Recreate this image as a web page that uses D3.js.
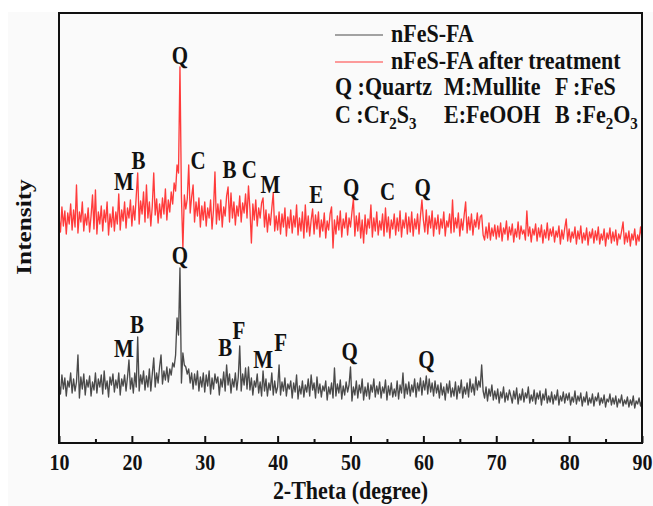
<!DOCTYPE html>
<html>
<head>
<meta charset="utf-8">
<script src="https://cdn.jsdelivr.net/npm/d3@7/dist/d3.min.js"></script>
<style>
  html, body { margin: 0; padding: 0; background: #fff; }
  svg { display: block; font-family: "Liberation Serif", "Times New Roman", serif; font-weight: bold; }
</style>
</head>
<body>
<svg id="chart" width="653" height="506"></svg>
<script>
// XRD patterns, 2θ from 10° to 90° in 0.2° steps (intensity in a.u.)
const thetaStart = 10;
const thetaStep = 0.2;

const nFeSFA = [
  600,490,680,540,650,470,620,560,700,500,
  640,520,610,880,450,660,540,690,480,630,
  560,670,470,610,530,700,500,640,560,680,
  490,720,540,620,460,660,580,690,510,630,
  550,700,480,640,570,680,520,660,830,540,
  650,500,700,560,1060,520,680,590,720,530,
  670,560,740,520,690,850,560,700,600,760,
  880,590,720,630,760,610,740,680,800,760,
  880,1250,1080,1750,600,900,780,760,690,740,
  600,700,540,690,580,720,520,660,560,700,
  510,680,570,720,490,650,540,690,600,660,
  480,640,560,710,520,780,580,690,500,640,
  560,700,530,660,970,520,690,580,750,540,
  760,530,650,480,620,560,690,500,610,470,
  720,520,640,470,600,530,700,480,620,500,
  560,780,480,610,520,650,470,590,540,620,
  450,600,510,680,440,570,490,620,460,580,
  510,640,470,680,530,600,450,660,500,590,
  460,570,520,620,430,560,490,600,450,750,
  470,590,500,630,440,570,480,610,510,580,
  760,420,560,480,620,450,580,500,640,430,
  560,470,600,440,580,510,640,460,570,490,
  610,450,560,500,630,430,570,480,600,460,
  540,470,620,440,580,500,700,450,590,490,
  610,470,580,510,640,460,600,520,650,480,
  620,530,670,490,640,510,600,470,620,500,
  580,450,600,480,560,430,590,500,620,460,
  550,470,610,440,570,500,630,450,560,490,
  600,460,640,510,590,480,660,530,620,560,
  780,520,450,560,420,540,470,580,430,520,
  440,540,400,510,450,560,410,500,430,530,
  470,400,520,440,550,390,490,430,540,410,
  500,450,560,400,480,420,530,390,500,440,
  520,380,490,430,540,400,470,410,510,390,
  480,430,530,380,470,420,510,400,490,430,
  500,380,460,410,520,390,470,420,500,370,
  460,410,510,380,450,400,490,370,460,420,
  500,380,450,400,480,360,440,410,490,380,
  450,390,470,360,440,400,480,370,430,390,
  460,360,430,380,470,350,420,390,450,370,
  430
];

const nFeSFATreated = [
  560,410,660,470,620,390,600,490,690,430,
  630,460,880,400,610,510,710,420,590,480,
  650,410,570,780,440,830,390,610,490,670,
  420,630,510,710,380,590,460,660,420,610,
  490,790,430,630,520,710,450,650,550,730,
  470,670,530,770,1000,490,720,590,810,510,
  880,550,710,470,670,1000,580,740,500,690,
  550,750,590,840,530,730,610,810,690,900,
  820,1080,1000,2060,760,250,780,640,740,1080,
  600,760,880,510,710,570,750,460,670,530,
  710,470,650,550,730,440,630,1010,490,690,
  530,730,460,660,570,770,860,510,800,550,
  710,480,670,570,770,510,700,600,790,550,
  870,640,300,690,530,730,470,650,550,700,
  750,460,630,410,590,480,650,800,420,570,
  430,610,390,590,460,650,370,560,450,630,
  400,570,460,680,380,550,420,610,350,680,
  410,570,370,530,640,390,580,440,610,360,
  530,420,600,350,520,430,590,660,250,530,
  390,570,430,620,360,540,450,600,380,550,
  460,610,740,370,570,420,600,350,530,300,
  580,390,540,450,680,360,550,420,610,380,
  520,430,590,370,650,410,560,350,530,440,
  590,380,550,420,620,360,530,450,600,390,
  560,410,610,370,540,440,590,390,570,730,
  530,410,630,390,570,450,620,370,550,440,
  580,390,540,450,610,370,520,460,590,400,
  730,410,550,450,600,370,540,430,580,710,
  400,560,430,590,380,530,460,600,440,560,
  580,380,330,460,350,500,330,450,370,480,
  340,470,360,500,320,450,390,520,330,460,
  380,490,310,440,360,510,340,470,390,430,
  330,620,370,460,310,440,380,490,320,450,
  360,480,300,430,350,500,330,440,370,460,
  310,420,360,470,290,430,340,450,540,320,
  440,310,410,350,460,290,420,340,470,300,
  400,330,450,280,410,350,440,300,420,330,
  460,290,390,330,440,270,400,340,450,300,
  410,320,430,280,390,340,420,510,290,400,
  310,420,270,390,330,440,280,380,320,460,
  350
];

// vertical shift used to stack the treated pattern above the untreated one
const treatedOffset = 1700;

const seriesNames = ["nFeS-FA", "nFeS-FA after treatment"];
const seriesColors = ["#4a4a4a", "#ff3b3b"];

const xMajorTicks = [10, 20, 30, 40, 50, 60, 70, 80, 90];
const xMinorTicks = [15, 25, 35, 45, 55, 65, 75, 85];

// phase markers (letter, 2θ, label level in the series' own units)
const rawPeakLetters = ["M", "B", "Q", "B", "F", "M", "F", "Q", "Q"];
const rawPeakTheta   = [18.9, 20.7, 26.6, 32.8, 34.7, 38.0, 40.4, 49.9, 60.4];
const rawPeakLevel   = [860, 1100, 1790, 870, 1040, 750, 920, 830, 750];

const treatedPeakLetters = ["M", "B", "Q", "C", "B", "C", "M", "E", "Q", "C", "Q"];
const treatedPeakTheta   = [18.9, 20.9, 26.6, 29.1, 33.4, 36.1, 39.0, 45.3, 50.1, 55.1, 59.9];
const treatedPeakLevel   = [830, 1040, 2090, 1040, 950, 950, 800, 700, 770, 730, 770];

// phase key: each entry is a list of [text, isSubscript] parts
const phaseKeyRows = [
  [ [["Q :Quartz", false]], [["M:Mullite", false]], [["F :FeS", false]] ],
  [ [["C :Cr", false], ["2", true], ["S", false], ["3", true]],
    [["E:FeOOH", false]],
    [["B :Fe", false], ["2", true], ["O", false], ["3", true]] ]
];

const svg = d3.select("#chart");
const W = 653, H = 506;
const plot = { left: 59, right: 642, top: 13, bottom: 443 };
const stretch = "scale(1,1.15)";   // tall, narrow serif lettering

// page backdrop
svg.append("rect").attr("width", W).attr("height", H).attr("fill", "#ffffff");
svg.append("rect").attr("x", 8).attr("y", 12).attr("width", W - 8).attr("height", H - 12).attr("fill", "#fafafa");

const x = d3.scaleLinear().domain([10, 90]).range([plot.left, plot.right]);
const y = d3.scaleLinear().domain([0, 4300]).range([plot.bottom, plot.top]);

svg.append("clipPath").attr("id", "plotClip")
  .append("rect")
  .attr("x", plot.left).attr("y", plot.top)
  .attr("width", plot.right - plot.left).attr("height", plot.bottom - plot.top);

const lineRaw = d3.line()
  .x((d, i) => x(thetaStart + i * thetaStep))
  .y(d => y(d));
const lineTreated = d3.line()
  .x((d, i) => x(thetaStart + i * thetaStep))
  .y(d => y(d + treatedOffset));

const traces = svg.append("g").attr("clip-path", "url(#plotClip)");
traces.append("path").datum(nFeSFATreated)
  .attr("d", lineTreated)
  .attr("fill", "none").attr("stroke", seriesColors[1])
  .attr("stroke-width", 1.35).attr("stroke-linejoin", "round");
traces.append("path").datum(nFeSFA)
  .attr("d", lineRaw)
  .attr("fill", "none").attr("stroke", seriesColors[0])
  .attr("stroke-width", 1.35).attr("stroke-linejoin", "round");

// peak letters
const peakG = svg.append("g").attr("font-size", 21).attr("text-anchor", "middle").attr("fill", "#111");
peakG.selectAll("text.raw").data(rawPeakLetters).join("text")
  .attr("class", "raw")
  .attr("transform", (d, i) => `translate(${x(rawPeakTheta[i])},${y(rawPeakLevel[i])}) ${stretch}`)
  .text(d => d);
peakG.selectAll("text.treated").data(treatedPeakLetters).join("text")
  .attr("class", "treated")
  .attr("transform", (d, i) => `translate(${x(treatedPeakTheta[i])},${y(treatedPeakLevel[i] + treatedOffset)}) ${stretch}`)
  .text(d => d);

// x axis: major ticks with labels, minor ticks without
const axisMajor = d3.axisBottom(x).tickValues(xMajorTicks).tickSize(-7).tickFormat(d3.format("d"));
const axisMinor = d3.axisBottom(x).tickValues(xMinorTicks).tickSize(-4).tickFormat("");
const gMaj = svg.append("g").attr("transform", `translate(0,${plot.bottom})`).call(axisMajor);
const gMin = svg.append("g").attr("transform", `translate(0,${plot.bottom})`).call(axisMinor);
[gMaj, gMin].forEach(g => {
  g.select(".domain").remove();
  g.selectAll(".tick line").attr("stroke", "#111").attr("stroke-width", 2);
});
gMaj.selectAll(".tick text")
  .attr("y", null).attr("dy", null)
  .attr("transform", `translate(0,27) ${stretch}`)
  .attr("font-family", "'Liberation Serif','Times New Roman',serif")
  .attr("font-weight", "bold").attr("font-size", 20).attr("fill", "#111");

// frame
svg.append("rect")
  .attr("x", plot.left).attr("y", plot.top)
  .attr("width", plot.right - plot.left).attr("height", plot.bottom - plot.top)
  .attr("fill", "none").attr("stroke", "#111").attr("stroke-width", 2);

// axis titles
svg.append("text")
  .attr("transform", `translate(${(plot.left + plot.right) / 2},499) ${stretch}`)
  .attr("text-anchor", "middle").attr("font-size", 22).attr("fill", "#111")
  .text("2-Theta (degree)");
svg.append("text")
  .attr("transform", `translate(31,227) rotate(-90) scale(1.15,1)`)
  .attr("text-anchor", "middle").attr("font-size", 22).attr("fill", "#111")
  .text("Intensity");

// legend
const legend = svg.append("g").attr("font-size", 22).attr("fill", "#111");
const legendRowY = [35, 62];
seriesNames.forEach((name, i) => {
  legend.append("line")
    .attr("x1", 335).attr("x2", 383)
    .attr("y1", legendRowY[i]).attr("y2", legendRowY[i])
    .attr("stroke", seriesColors[i]).attr("stroke-width", 1);
  legend.append("text")
    .attr("transform", `translate(391,${legendRowY[i] + 7}) ${stretch}`)
    .text(name);
});

const keyColX = [335, 444, 555];
const keyRowBase = [95, 123];
phaseKeyRows.forEach((row, r) => {
  row.forEach((parts, c) => {
    const t = legend.append("text")
      .attr("transform", `translate(${keyColX[c]},${keyRowBase[r]}) ${stretch}`);
    let shifted = false;
    parts.forEach(([txt, sub]) => {
      const ts = t.append("tspan").text(txt);
      if (sub && !shifted) { ts.attr("font-size", 15).attr("dy", 5); shifted = true; }
      else if (sub) { ts.attr("font-size", 15); }
      else if (shifted) { ts.attr("dy", -5); shifted = false; }
    });
  });
});
</script>
</body>
</html>
